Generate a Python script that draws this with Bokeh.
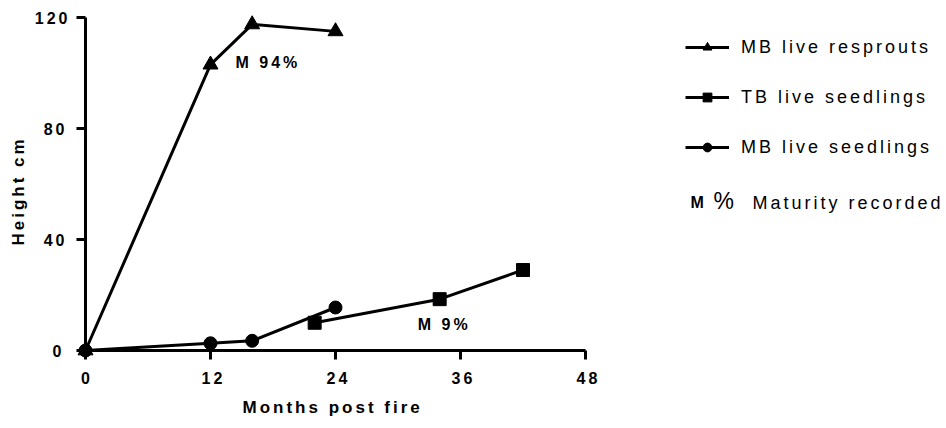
from bokeh.plotting import figure
from bokeh.models import Range1d, Legend, LegendItem, Label, FixedTicker, Title
from bokeh.embed import file_html
from bokeh.resources import INLINE

# Mean height (cm) against months since the fire
months_mb_resprouts = [0, 12, 16, 24]
height_mb_resprouts = [0, 103, 117.5, 115]

months_tb_seedlings = [22, 34, 42]
height_tb_seedlings = [10, 18.5, 29]

months_mb_seedlings = [0, 12, 16, 24]
height_mb_seedlings = [0, 2.6, 3.5, 15.5]

x_ticks = [0, 12, 24, 36, 48]
y_ticks = [0, 40, 80, 120]

# Maturity recorded at the last survey of each group
maturity_text = ["M 94%", "M 9%"]
maturity_month = [14.4, 31.9]
maturity_height = [103.7, 9.5]

FONT = "Liberation Sans"
TRACKING = 3          # px of letter spacing on every text
W, H = 946, 428
LEFT, RIGHT, TOP, BOTTOM = 85, 6, 17, 78
AXIS_PX = 500         # drawn length of the 0-48 month axis

# the frame runs on to the right so that the key sits inside it
px_per_month = AXIS_PX / x_ticks[-1]
x_end = (W - LEFT - RIGHT) / px_per_month

p = figure(
    width=W, height=H,
    x_range=Range1d(x_ticks[0], x_end), y_range=Range1d(y_ticks[0], y_ticks[-1]),
    output_backend="svg", toolbar_location=None,
    min_border_left=LEFT, min_border_right=RIGHT,
    min_border_top=TOP, min_border_bottom=BOTTOM,
    stylesheets=[":host { letter-spacing: %dpx; }" % TRACKING],
)
p.outline_line_color = None
p.grid.visible = False

for ax in (p.xaxis[0], p.yaxis[0]):
    ax.axis_line_width = 3
    ax.major_tick_line_width = 3
    ax.major_tick_out = 9
    ax.major_tick_in = 0
    ax.minor_tick_line_color = None
    ax.major_label_text_font = FONT
    ax.major_label_text_font_style = "bold"
    ax.major_label_text_font_size = "16px"
    ax.major_label_text_color = "black"

p.xaxis.ticker = FixedTicker(ticks=x_ticks)
p.yaxis.ticker = FixedTicker(ticks=y_ticks)
p.xaxis.bounds = (x_ticks[0], x_ticks[-1])
p.yaxis.bounds = (y_ticks[0], y_ticks[-1])
p.xaxis.major_label_standoff = 12
p.yaxis.major_label_standoff = 15

# axis titles, placed from the start of each axis
title_style = dict(text_font=FONT, text_font_style="bold", text_font_size="17px",
                   text_color="black", align="left")
p.add_layout(Title(text="Months post fire", offset=157, standoff=19, **title_style), "below")
p.add_layout(Title(text="Height cm", offset=105, standoff=8, **title_style), "left")

# series are drawn above the axes and not clipped at the frame edge
LW = 3
l1 = p.line(months_mb_resprouts, height_mb_resprouts, line_color="black", line_width=LW, level="overlay")
s1 = p.scatter(months_mb_resprouts, height_mb_resprouts, marker="triangle", size=15,
               fill_color="black", line_color="black", level="overlay")
l2 = p.line(months_tb_seedlings, height_tb_seedlings, line_color="black", line_width=LW, level="overlay")
s2 = p.scatter(months_tb_seedlings, height_tb_seedlings, marker="square", size=13,
               fill_color="black", line_color="black", level="overlay")
l3 = p.line(months_mb_seedlings, height_mb_seedlings, line_color="black", line_width=LW, level="overlay")
s3 = p.scatter(months_mb_seedlings, height_mb_seedlings, marker="circle", size=13,
               fill_color="black", line_color="black", level="overlay")

for txt, mx, my in zip(maturity_text, maturity_month, maturity_height):
    p.add_layout(Label(x=mx, y=my, text=txt, text_font=FONT, text_font_style="bold",
                       text_font_size="16px", text_baseline="middle", text_color="black"))

# key, to the right of the plotted axes
legend = Legend(
    items=[
        LegendItem(label="MB live resprouts", renderers=[l1, s1]),
        LegendItem(label="TB live seedlings", renderers=[l2, s2]),
        LegendItem(label="MB live seedlings", renderers=[l3, s3]),
    ],
    location=(600, 192),
    glyph_width=44, glyph_height=22, label_height=22,
    spacing=28, padding=0, margin=0, label_standoff=12,
    label_text_font=FONT, label_text_font_size="18px", label_text_color="black",
    border_line_color=None, background_fill_alpha=0,
)
p.add_layout(legend, "center")

key_style = dict(x_units="screen", y_units="screen", text_baseline="middle",
                 text_font=FONT, text_color="black")
p.add_layout(Label(x=605, y=148, text="M", text_font_style="bold",
                   text_font_size="16px", **key_style))
p.add_layout(Label(x=628, y=150, text="%", text_font_size="23px", **key_style))
p.add_layout(Label(x=667, y=148, text="Maturity recorded", text_font_size="18px", **key_style))

open("out.html", "w").write(file_html(p, INLINE))
